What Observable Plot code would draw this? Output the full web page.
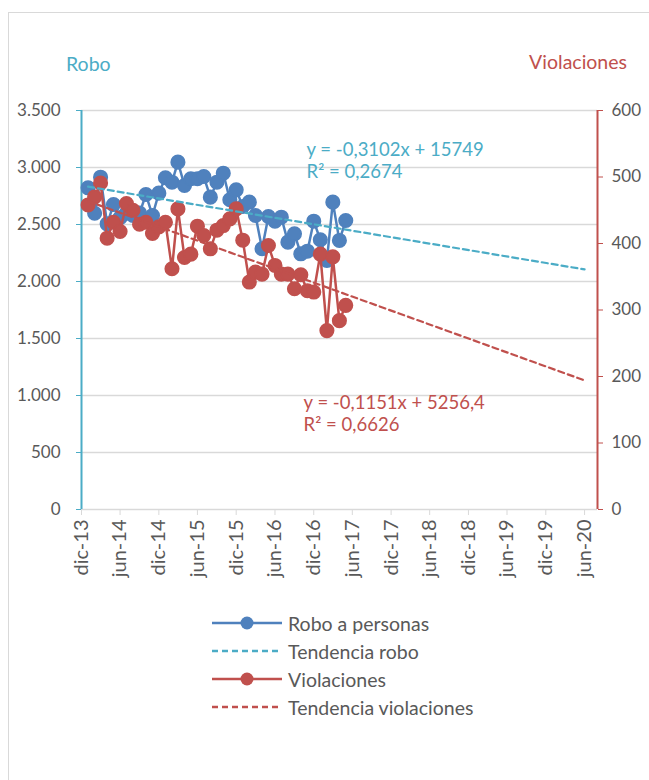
<!DOCTYPE html>
<html><head><meta charset="utf-8">
<script src="https://cdn.jsdelivr.net/npm/d3@7"></script>
<script src="https://cdn.jsdelivr.net/npm/@observablehq/plot@0.6"></script>
<style>
body{margin:0;background:#fff;font-family:Lato,"Noto Sans",sans-serif;}
#wrap{position:relative;width:649px;height:780px;overflow:hidden;background:#fff;}
#border{position:absolute;left:8px;top:12px;width:700px;height:820px;border:1px solid #d9d9d9;}
#chart{position:absolute;left:0;top:0;}
.ttl{position:absolute;font-size:19.5px;line-height:22px;}
#legend{position:absolute;left:212px;top:609px;font-size:19.5px;color:#595959;}
.row{display:flex;align-items:center;height:28px;}
.row svg{margin-right:6px;}
</style></head><body>
<div id="wrap">
<div id="border"></div>
<div id="chart"></div>
<div class="ttl" style="left:66px;top:53px;color:#4BACC6">Robo</div>
<div class="ttl" style="right:22px;top:51px;color:#C0504D">Violaciones</div>
<div id="legend"></div>
</div>
<script>
// ---- data ----
const firstMonth = "2014-01-01"; // monthly series, Jan 2014 .. May 2017
const robo = [2822,2599,2915,2506,2675,2560,2600,2580,2600,2763,2579,2775,2910,2871,3047,2842,2901,2901,2921,2740,2871,2950,2717,2804,2658,2696,2579,2287,2570,2529,2564,2345,2418,2243,2266,2529,2366,2184,2696,2360,2535];
const violaciones = [458,470,491,408,432,418,460,450,429,432,415,425,432,362,452,379,384,426,412,392,420,427,437,452,405,342,357,354,397,367,354,354,332,353,329,327,384,269,380,284,307];
const trendDates = ["2014-01-01","2020-06-01"];
const trendRobo = [2832,2106];
const trendViol = [463.6,194.1];
const xTickDates = ["2013-12-01","2014-06-01","2014-12-01","2015-06-01","2015-12-01","2016-06-01","2016-12-01","2017-06-01","2017-12-01","2018-06-01","2018-12-01","2019-06-01","2019-12-01","2020-06-01"];
const monthNames = ["ene","feb","mar","abr","may","jun","jul","ago","sep","oct","nov","dic"];
const roboTicks = [0,500,1000,1500,2000,2500,3000,3500];
const violTicks = [0,100,200,300,400,500,600];
const eqRobo = {date:"2016-10-28", lines:["y = -0,3102x + 15749","R² = 0,2674"], y:[3149,2956]};
const eqViol = {date:"2016-10-14", lines:["y = -0,1151x + 5256,4","R² = 0,6626"], y:[159.4,126.3]};

// ---- styles ----
const cRobo = "#4F81BD", cViol = "#C0504D", cTrendRobo = "#4BACC6", cTrendViol = "#C0504D";
const grid = "#D9D9D9", txt = "#595959";
const k = 3500/600; // violaciones -> left scale

const start = new Date(firstMonth);
const roboData = robo.map((v,i)=>({date:d3.utcMonth.offset(start,i), v}));
const violData = violaciones.map((v,i)=>({date:d3.utcMonth.offset(start,i), v:v*k}));
const trR = trendDates.map((d,i)=>({date:new Date(d), v:trendRobo[i]}));
const trV = trendDates.map((d,i)=>({date:new Date(d), v:trendViol[i]*k}));
const loc = d3.formatLocale({decimal:",", thousands:".", grouping:[3], currency:["","€"]});
const fmt = loc.format(",");
const xDomain = [new Date("2013-12-01"), new Date("2020-08-01")];

const chart = Plot.plot({
  width:649, height:600,
  marginLeft:81, marginRight:52, marginTop:110, marginBottom:91,
  style:{fontFamily:"Lato, 'Noto Sans', sans-serif", fontSize:"16px", background:"transparent"},
  x:{type:"utc", domain:xDomain},
  y:{domain:[0,3500]},
  marks:[
    Plot.gridY(roboTicks, {stroke:grid, strokeOpacity:1, strokeWidth:1.3}),
    Plot.axisX({ticks:xTickDates.map(d=>new Date(d)), tickFormat:d=>`${monthNames[d.getUTCMonth()]}-${String(d.getUTCFullYear()).slice(2)}`,
      tickRotate:-90, stroke:grid, fill:txt, tickSize:6, tickPadding:4, fontSize:20, label:null}),
    Plot.axisY({ticks:roboTicks, tickFormat:fmt, anchor:"left", stroke:cTrendRobo, fill:txt, tickSize:5, tickPadding:16, fontSize:17, label:null}),
    Plot.axisY({ticks:violTicks.map(v=>v*k), tickFormat:d=>String(Math.round(d/k)), anchor:"right", stroke:cViol, fill:txt, tickSize:5, tickPadding:9, fontSize:17, label:null}),
    Plot.ruleX([xDomain[0]], {stroke:cTrendRobo, strokeWidth:2}),
    Plot.ruleX([xDomain[1]], {stroke:cViol, strokeWidth:2}),
    Plot.line(roboData, {x:"date", y:"v", stroke:cRobo, strokeWidth:2.5}),
    Plot.dot(roboData, {x:"date", y:"v", r:6.8, fill:cRobo, stroke:cRobo}),
    Plot.line(violData, {x:"date", y:"v", stroke:cViol, strokeWidth:2.5}),
    Plot.dot(violData, {x:"date", y:"v", r:6.8, fill:cViol, stroke:cViol}),
    Plot.line(trR, {x:"date", y:"v", stroke:cTrendRobo, strokeWidth:2.2, strokeDasharray:"6,4"}),
    Plot.line(trV, {x:"date", y:"v", stroke:cTrendViol, strokeWidth:2.2, strokeDasharray:"6,4"}),
    Plot.text(eqRobo.lines, {x:()=>new Date(eqRobo.date), y:(d,i)=>eqRobo.y[i], text:d=>d, textAnchor:"start", fill:cTrendRobo, fontSize:18.5}),
    Plot.text(eqViol.lines, {x:()=>new Date(eqViol.date), y:(d,i)=>eqViol.y[i]*k, text:d=>d, textAnchor:"start", fill:cTrendViol, fontSize:18.5})
  ]
});
document.getElementById("chart").appendChild(chart);

// ---- legend ----
const legendItems = [
  {label:"Robo a personas", color:cRobo, dash:null, dot:true},
  {label:"Tendencia robo", color:cTrendRobo, dash:"6,4", dot:false},
  {label:"Violaciones", color:cViol, dash:null, dot:true},
  {label:"Tendencia violaciones", color:cTrendViol, dash:"6,4", dot:false}
];
const lg = document.getElementById("legend");
legendItems.forEach(it=>{
  const row = document.createElement("div"); row.className="row";
  row.innerHTML = `<svg width="70" height="16"><line x1="0" y1="8" x2="70" y2="8" stroke="${it.color}" stroke-width="2.5" ${it.dash?`stroke-dasharray="${it.dash}"`:""}/>${it.dot?`<circle cx="35" cy="8" r="6.5" fill="${it.color}"/>`:""}</svg><span>${it.label}</span>`;
  lg.appendChild(row);
});
</script>
</body></html>
